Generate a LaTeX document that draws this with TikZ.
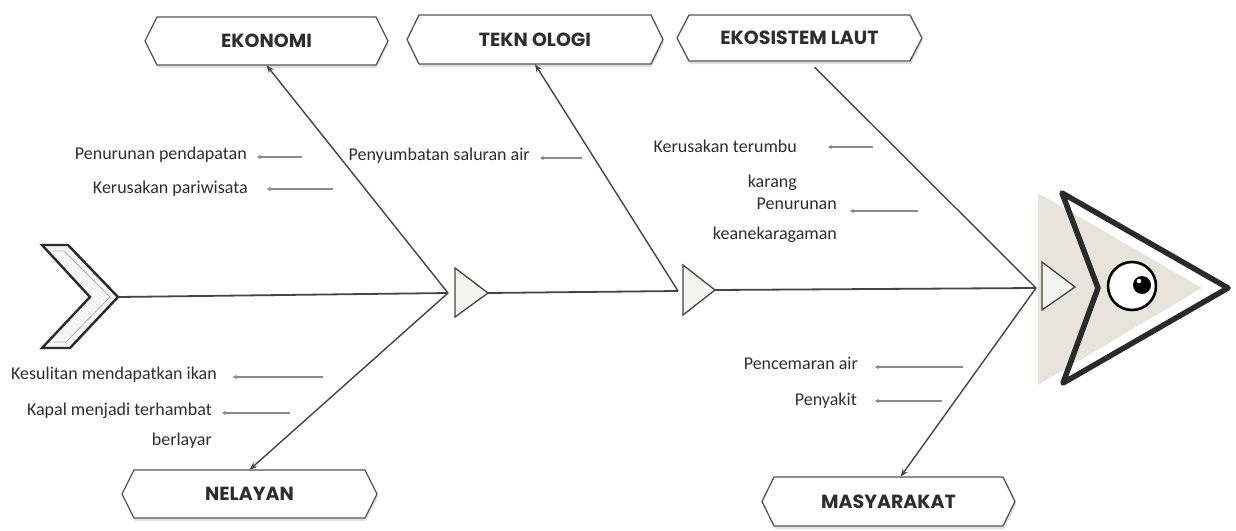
\documentclass[tikz,border=0pt]{standalone}
\usepackage{fontspec}
\setmainfont{Carlito}
\newfontfamily\titlefont{Poppins}
\usetikzlibrary{arrows.meta,shadows,calc}
\definecolor{txt}{HTML}{2E2E2E}
\definecolor{frame}{HTML}{555555}
\definecolor{bone}{HTML}{444444}
\definecolor{subar}{HTML}{8A8A8A}
\definecolor{beige}{HTML}{E7E5DB}
\definecolor{trifill}{HTML}{F3F3F1}
\definecolor{headline}{HTML}{2A2A2A}
\tikzset{
  catframe/.style={draw=frame, line width=1.3pt, fill=white, line join=round,
    drop shadow={shadow xshift=1pt, shadow yshift=-3pt, fill=black!20, opacity=0.6}},
  cattext/.style={inner sep=0pt, text=txt, font=\titlefont\bfseries\fontsize{19}{22}\selectfont},
  lbl/.style={inner sep=0pt, text=txt, font=\fontsize{18}{21}\selectfont, anchor=mid east},
  bonearrow/.style={draw=bone, line width=1.4pt, -{Stealth[length=8pt,width=6pt]}},
  boneline/.style={draw=bone, line width=1.4pt},
  spine/.style={draw=bone, line width=1.8pt},
  subarrow/.style={draw=subar, line width=1.2pt, -{Stealth[length=4pt,width=4.5pt]}},
  joint/.style={draw=bone, line width=1.3pt, fill=trifill, line join=miter},
}
\newcommand\catbox[6]{%
  \draw[catframe] ({#2-#4/2},#3) -- ({#2-#4/2+12},{#3-#5/2}) -- ({#2+#4/2-12},{#3-#5/2})
    -- ({#2+#4/2},#3) -- ({#2+#4/2-12},{#3+#5/2}) -- ({#2-#4/2+12},{#3+#5/2}) -- cycle;
  \node[cattext, minimum width={#4-24}, minimum height=#5] (#1) at (#2,#3) {#6};
}
\begin{document}
\begin{tikzpicture}[x=1pt,y=-1pt]
\useasboundingbox[fill=white] (0,0) rectangle (1236,530);

% category boxes
\catbox{eko}{266.5}{41}{243}{48}{EKONOMI}
\catbox{tek}{535}{39.5}{256}{49}{TEKN OLOGI}
\catbox{eks}{799.5}{38}{245}{46}{EKOSISTEM LAUT}
\catbox{nel}{249.5}{494}{255}{48}{NELAYAN}
\catbox{mas}{888.5}{501.5}{253}{49}{MASYARAKAT}

% junctions
\coordinate (tail) at (118,297);
\coordinate (j1) at (448,293);
\coordinate (j2) at (678,291);
\coordinate (j3) at (1036,288);

% tail chevron
\draw[draw=headline, line width=2.4pt, fill=black!4, line join=miter]
  (42,245) -- (68,245) -- (tail) -- (70,348) -- (42,348) -- (90,297) -- cycle;
\draw[draw=black!30, line width=0.8pt]
  (52,251) -- (64,251) -- (110,297) -- (66,342) -- (54,342);

% beige shadow triangle and head interior
\fill[white] (1062,193) -- (1228,288) -- (1063,383) -- (1098,288) -- cycle;
\fill[beige] (1038,193) -- (1202,288) -- (1038,385) -- cycle;

% spine
\draw[spine] (tail) -- (j1);
\draw[joint] (455,268) -- (488,293) -- (455,317) -- cycle;
\coordinate (t1) at (488,293);
\draw[spine] (t1) -- (j2);
\draw[joint] (683,265) -- (715,290) -- (683,315) -- cycle;
\coordinate (t2) at (715,290);
\draw[spine] (t2) -- (j3);
\draw[joint] (1042,262) -- (1075,287) -- (1042,310) -- cycle;

% head
\draw[draw=headline, line width=5.5pt, line join=round]
  (1062,193) -- (1228,288) -- (1063,383) -- (1098,288) -- cycle;
\node[circle, draw=black, line width=2.6pt, fill=white, minimum size=48pt, inner sep=0pt] (eye) at (1132,286) {};
\node[circle, fill=black, minimum size=18pt, inner sep=0pt] (pupil) at (1142,285) {};
\fill[white] (1139,281) circle (2.3pt);

% bones
\draw[bonearrow] (j1) -- (eko.south);
\draw[bonearrow] (j2) -- (tek.south);
\draw[boneline] ([xshift=15pt,yshift=-6pt]eks.south) -- (j3);
\draw[bonearrow] (j1) -- (nel.north);
\draw[bonearrow] (j3) -- ([xshift=12pt]mas.north);

% sub-causes
\node[lbl] (a1) at (247,157) {Penurunan pendapatan};
\coordinate (a1s) at (302,157);
\draw[subarrow] (a1s) -- (257,157);

\node[lbl] (a2) at (248,191) {Kerusakan pariwisata};
\coordinate (a2s) at (333,189);
\draw[subarrow] (a2s) -- (267,189);

\node[lbl] (b1) at (530,158) {Penyumbatan saluran air};
\coordinate (b1s) at (582,158);
\draw[subarrow] (b1s) -- (540,158);

\node[lbl] (c1) at (797,150) {Kerusakan terumbu};
\coordinate (c1s) at (873,147);
\draw[subarrow] (c1s) -- (828,147);
\node[lbl] (c1b) at (797,185) {karang};

\node[lbl] (c2) at (837,207) {Penurunan};
\coordinate (c2s) at (918,211);
\draw[subarrow] (c2s) -- (850,211);
\node[lbl] (c2b) at (837,237) {keanekaragaman};

\node[lbl] (d1) at (217,377) {Kesulitan mendapatkan ikan};
\coordinate (d1s) at (323,377);
\draw[subarrow] (d1s) -- (233,377);

\node[lbl] (d2) at (212,413) {Kapal menjadi terhambat};
\coordinate (d2s) at (290,413);
\draw[subarrow] (d2s) -- (222,413);
\node[lbl] (d2b) at (212,443) {berlayar};

\node[lbl] (e1) at (858,367) {Pencemaran air};
\coordinate (e1s) at (963,367);
\draw[subarrow] (e1s) -- (875,367);

\node[lbl] (e2) at (857,403) {Penyakit};
\coordinate (e2s) at (942,401);
\draw[subarrow] (e2s) -- (875,401);
\end{tikzpicture}
\end{document}
